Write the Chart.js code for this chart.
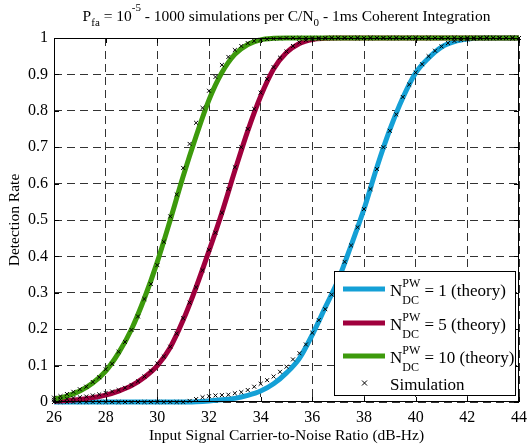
<!DOCTYPE html>
<html lang="en">
<head>
<meta charset="UTF-8">
<title>Detection Rate vs Input C/N0</title>
<script src="https://cdn.jsdelivr.net/npm/chart.js"></script>
<style>
    body { margin: 0; background: #fff; }
    #wrap { width: 528px; height: 445px; }
</style>
</head>
<body>
<div id="wrap"><canvas id="grafico" width="528" height="445"></canvas></div>
<script>
    // C/N0 grid of the simulations (dB-Hz, 0.25 steps)
    const snrSim = [26, 26.25, 26.5, 26.75, 27, 27.25, 27.5, 27.75, 28, 28.25, 28.5, 28.75,
        29, 29.25, 29.5, 29.75, 30, 30.25, 30.5, 30.75, 31, 31.25, 31.5, 31.75,
        32, 32.25, 32.5, 32.75, 33, 33.25, 33.5, 33.75, 34, 34.25, 34.5, 34.75,
        35, 35.25, 35.5, 35.75, 36, 36.25, 36.5, 36.75, 37, 37.25, 37.5, 37.75,
        38, 38.25, 38.5, 38.75, 39, 39.25, 39.5, 39.75, 40, 40.25, 40.5, 40.75,
        41, 41.25, 41.5, 41.75, 42, 42.25, 42.5, 42.75, 43, 43.25, 43.5, 43.75, 44];

    // simulated detection rate (1000 runs per C/N0)
    const simN1 = [0, 0, 0, 0, 0, 0, 0, 0, 0, 0, 0, 0,
        0, 0, 0, 0, 0, 0, 0, 0, 0, 0.003, 0.008, 0.013,
        0.016, 0.018, 0.019, 0.02, 0.024, 0.027, 0.033, 0.042, 0.05, 0.06, 0.07, 0.083,
        0.097, 0.117, 0.134, 0.158, 0.19, 0.225, 0.255, 0.295, 0.34, 0.385, 0.43, 0.48,
        0.53, 0.585, 0.64, 0.7, 0.745, 0.79, 0.838, 0.872, 0.905, 0.928, 0.95, 0.965,
        0.977, 0.986, 0.992, 0.995, 0.997, 0.998, 0.999, 1, 1, 1, 1, 1, 1];
    const simN5 = [0.006, 0.007, 0.009, 0.011, 0.013, 0.015, 0.018, 0.021, 0.025, 0.029, 0.033, 0.039,
        0.047, 0.057, 0.07, 0.086, 0.106, 0.125, 0.152, 0.188, 0.23, 0.273, 0.315, 0.362,
        0.418, 0.465, 0.52, 0.585, 0.645, 0.7, 0.75, 0.805, 0.85, 0.887, 0.92, 0.946,
        0.963, 0.978, 0.988, 0.994, 0.997, 0.998, 0.999, 1, 1, 1, 1, 1,
        1, 1, 1, 1, 1, 1, 1, 1, 1, 1, 1, 1,
        1, 1, 1, 1, 1, 1, 1, 1, 1, 1, 1, 1, 1];
    const simN10 = [0.012, 0.016, 0.022, 0.028, 0.035, 0.042, 0.055, 0.068, 0.09, 0.105, 0.138, 0.165,
        0.198, 0.235, 0.283, 0.324, 0.376, 0.44, 0.51, 0.57, 0.643, 0.709, 0.767, 0.808,
        0.855, 0.893, 0.926, 0.948, 0.967, 0.978, 0.986, 0.992, 0.995, 0.997, 0.998, 0.999,
        1, 1, 1, 1, 1, 1, 1, 1, 1, 1, 1, 1,
        1, 1, 1, 1, 1, 1, 1, 1, 1, 1, 1, 1,
        1, 1, 1, 1, 1, 1, 1, 1, 1, 1, 1, 1, 1];

    // theoretical curves (0.5 dB-Hz steps)
    const snrTheory = [26, 26.5, 27, 27.5, 28, 28.5, 29, 29.5, 30, 30.5, 31, 31.5,
        32, 32.5, 33, 33.5, 34, 34.5, 35, 35.5, 36, 36.5, 37, 37.5,
        38, 38.5, 39, 39.5, 40, 40.5, 41, 41.5, 42, 42.5, 43, 43.5, 44];
    const theoryN1 = [0, 0, 0, 0, 0, 0, 0, 0, 0, 0, 0, 0.001,
        0.003, 0.006, 0.01, 0.018, 0.03, 0.05, 0.08, 0.12, 0.185, 0.26, 0.335, 0.43,
        0.53, 0.645, 0.748, 0.835, 0.904, 0.945, 0.975, 0.99, 0.997, 1, 1, 1, 1];
    const theoryN5 = [0.002, 0.004, 0.007, 0.012, 0.019, 0.03, 0.045, 0.068, 0.1, 0.15, 0.225, 0.315,
        0.415, 0.52, 0.635, 0.745, 0.84, 0.915, 0.96, 0.985, 0.996, 0.999, 1, 1,
        1, 1, 1, 1, 1, 1, 1, 1, 1, 1, 1, 1, 1];
    const theoryN10 = [0.008, 0.016, 0.03, 0.052, 0.085, 0.135, 0.2, 0.285, 0.385, 0.5, 0.62, 0.73,
        0.83, 0.905, 0.955, 0.982, 0.995, 0.999, 1, 1, 1, 1, 1, 1,
        1, 1, 1, 1, 1, 1, 1, 1, 1, 1, 1, 1, 1];

    const pulses = [1, 5, 10];
    const cores = ['#14A0D6', '#A0003D', '#3D9A0C'];
    const xTicks = [26, 28, 30, 32, 34, 36, 38, 40, 42, 44];
    const yTicks = [0, 0.1, 0.2, 0.3, 0.4, 0.5, 0.6, 0.7, 0.8, 0.9, 1];

    const serif = '"Liberation Serif", "Times New Roman", serif';
    const pares = (xs, ys) => xs.map((v, i) => ({ x: v, y: ys[i] }));

    // texto com sub/sobrescrito: partes {t}, {sub}, {sup} ou {sup, sub}
    function larguraRica(ctx, partes, tam, tamP) {
        let w = 0;
        partes.forEach(p => {
            if (p.t !== undefined) { ctx.font = tam + 'px ' + serif; w += ctx.measureText(p.t).width; }
            else {
                ctx.font = tamP + 'px ' + serif;
                w += Math.max(p.sup ? ctx.measureText(p.sup).width : 0, p.sub ? ctx.measureText(p.sub).width : 0);
            }
        });
        return w;
    }
    function textoRico(ctx, partes, x, y, tam, tamP, supDy, subDy) {
        let cx = x;
        ctx.textAlign = 'left';
        ctx.textBaseline = 'alphabetic';
        ctx.fillStyle = '#000';
        partes.forEach(p => {
            if (p.t !== undefined) {
                ctx.font = tam + 'px ' + serif;
                ctx.fillText(p.t, cx, y);
                cx += ctx.measureText(p.t).width;
            } else {
                ctx.font = tamP + 'px ' + serif;
                let w = 0;
                if (p.sup) { ctx.fillText(p.sup, cx, y + supDy); w = ctx.measureText(p.sup).width; }
                if (p.sub) { ctx.fillText(p.sub, cx, y + subDy); w = Math.max(w, ctx.measureText(p.sub).width); }
                cx += w;
            }
        });
    }

    const titulo = [{ t: 'P' }, { sub: 'fa' }, { t: ' = 10' }, { sup: '-5' },
        { t: ' - 1000 simulations per C/N' }, { sub: '0' }, { t: ' - 1ms Coherent Integration' }];

    const molduraPlugin = {
        id: 'moldura',
        afterDatasetsDraw(chart) {
            const { ctx, chartArea: a, scales: { x, y } } = chart;
            ctx.save();
            ctx.strokeStyle = '#000';
            ctx.lineWidth = 1;
            ctx.beginPath();
            xTicks.forEach(v => {
                const px = Math.round(x.getPixelForValue(v)) + 0.5;
                ctx.moveTo(px, a.bottom); ctx.lineTo(px, a.bottom - 5);
                ctx.moveTo(px, a.top); ctx.lineTo(px, a.top + 5);
            });
            yTicks.forEach(v => {
                const py = Math.round(y.getPixelForValue(v)) + 0.5;
                ctx.moveTo(a.left, py); ctx.lineTo(a.left + 5, py);
                ctx.moveTo(a.right, py); ctx.lineTo(a.right - 5, py);
            });
            ctx.stroke();
            ctx.strokeRect(Math.round(a.left) + 0.5, Math.round(a.top) + 0.5,
                Math.round(a.width) - 1, Math.round(a.height) - 1);
            ctx.restore();
        },
        afterDraw(chart) {
            const { ctx, chartArea: a } = chart;
            ctx.save();
            // titulo
            const w = larguraRica(ctx, titulo, 15.5, 11);
            textoRico(ctx, titulo, (a.left + a.right) / 2 - w / 2, 21, 15.5, 11, -10, 5);

            // legenda
            const bx = 334.5, by = 271.5, bw = 181, bh = 124;
            ctx.fillStyle = '#fff';
            ctx.fillRect(bx, by, bw, bh);
            ctx.strokeStyle = '#000';
            ctx.lineWidth = 1;
            ctx.strokeRect(bx, by, bw, bh);
            const linhas = [289, 323, 356];
            pulses.forEach((n, i) => {
                const ly = linhas[i];
                ctx.strokeStyle = cores[i];
                ctx.lineWidth = 5;
                ctx.beginPath();
                ctx.moveTo(343, ly); ctx.lineTo(385, ly);
                ctx.stroke();
                textoRico(ctx, [{ t: 'N' }, { sup: 'PW', sub: 'DC' }, { t: ' = ' + n + ' (theory)' }],
                    390, ly + 7, 17, 12, -9, 8);
            });
            const sy = 383;
            ctx.strokeStyle = '#000';
            ctx.lineWidth = 1;
            ctx.beginPath();
            ctx.moveTo(362, sy - 2.5); ctx.lineTo(367, sy + 2.5);
            ctx.moveTo(362, sy + 2.5); ctx.lineTo(367, sy - 2.5);
            ctx.stroke();
            textoRico(ctx, [{ t: 'Simulation' }], 390, sy + 7, 17, 12, 0, 0);
            ctx.restore();
        }
    };

    const teoria = [theoryN1, theoryN5, theoryN10];
    const sims = [simN1, simN5, simN10];
    const datasets = [];
    pulses.forEach((n, i) => {
        datasets.push({
            label: 'N = ' + n + ' (theory)',
            data: pares(snrTheory, teoria[i]),
            showLine: true,
            borderColor: cores[i],
            backgroundColor: cores[i],
            borderWidth: 5,
            pointRadius: 0,
            cubicInterpolationMode: 'monotone',
            clip: 4,
            order: 10 - i
        });
    });
    pulses.forEach((n, i) => {
        datasets.push({
            label: 'Simulation',
            data: pares(snrSim, sims[i]),
            showLine: false,
            pointStyle: 'crossRot',
            pointRadius: 2.8,
            pointBorderWidth: 1,
            borderColor: '#000',
            backgroundColor: '#000',
            clip: 4,
            order: 0
        });
    });

    const ctx = document.getElementById('grafico').getContext('2d');
    new Chart(ctx, {
        type: 'scatter',
        data: { datasets },
        options: {
            responsive: false,
            animation: false,
            events: [],
            layout: { padding: { top: 38, right: 9, left: 0, bottom: 0 } },
            plugins: { legend: { display: false }, title: { display: false }, tooltip: { enabled: false } },
            scales: {
                x: {
                    type: 'linear', min: 26, max: 44,
                    afterBuildTicks: s => { s.ticks = xTicks.map(v => ({ value: v })); },
                    afterFit: s => { s.height = 43; s.paddingLeft = 0; s.paddingRight = 0; },
                    grid: { color: '#333', lineWidth: 1, drawTicks: false },
                    border: { display: false, dash: [8, 5] },
                    ticks: { color: '#000', padding: 6, maxRotation: 0, font: { family: serif, size: 16 } },
                    title: { display: true, text: 'Input Signal Carrier-to-Noise Ratio (dB-Hz)', color: '#000',
                        font: { family: serif, size: 15.5 }, padding: { top: 0, bottom: 0 } }
                },
                y: {
                    type: 'linear', min: 0, max: 1,
                    afterBuildTicks: s => { s.ticks = yTicks.map(v => ({ value: v })); },
                    afterFit: s => { s.width = 54; s.paddingTop = 0; s.paddingBottom = 0; },
                    grid: { color: '#333', lineWidth: 1, drawTicks: false },
                    border: { display: false, dash: [8, 5] },
                    ticks: { color: '#000', padding: 6, font: { family: serif, size: 16 },
                        callback: v => String(+v.toFixed(1)) },
                    title: { display: true, text: 'Detection Rate', color: '#000',
                        font: { family: serif, size: 15.5 }, padding: { top: 6, bottom: 0 } }
                }
            }
        },
        plugins: [molduraPlugin]
    });
</script>
</body>
</html>
